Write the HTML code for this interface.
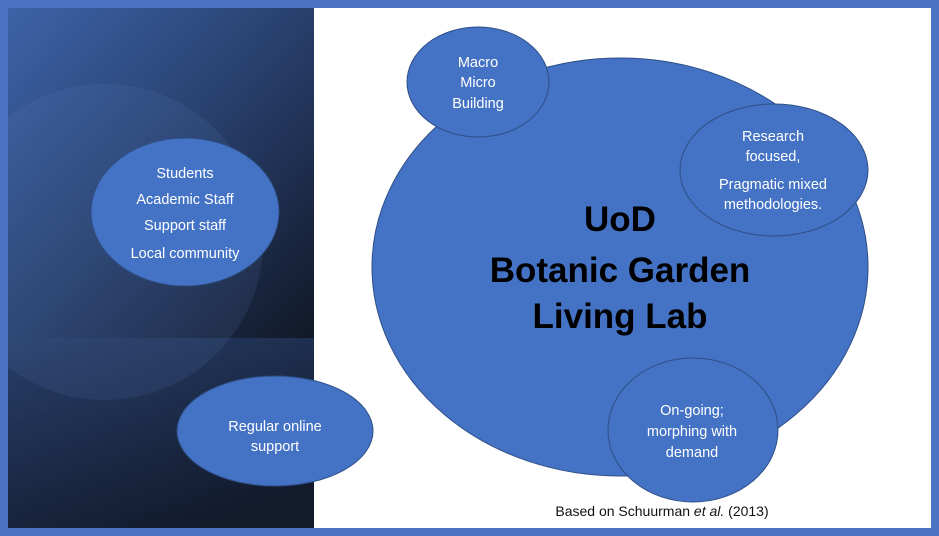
<!DOCTYPE html>
<html><head><style>
html,body{margin:0;padding:0;background:#fff;}
svg{display:block}
text{font-family:"Liberation Sans",sans-serif;}
</style></head><body>
<svg width="939" height="536" viewBox="0 0 939 536" xmlns="http://www.w3.org/2000/svg">
<defs>
<linearGradient id="pg" x1="0" y1="0" x2="1" y2="1">
<stop offset="0" stop-color="#3d63a8"/>
<stop offset="0.5" stop-color="#283f6c"/>
<stop offset="1" stop-color="#111827"/>
</linearGradient>
<linearGradient id="pg2" x1="0" y1="0" x2="0.6" y2="1">
<stop offset="0" stop-color="#283f6a"/>
<stop offset="1" stop-color="#121a2c"/>
</linearGradient>
<clipPath id="pc"><rect x="8" y="8" width="306" height="520"/></clipPath>
</defs>
<rect x="0" y="0" width="939" height="536" fill="#4a74c2"/>
<rect x="8" y="8" width="923" height="520" fill="#fff"/>
<rect x="8" y="8" width="306" height="330" fill="url(#pg)"/>
<rect x="8" y="338" width="306" height="190" fill="url(#pg2)"/>
<g clip-path="url(#pc)"><circle cx="105" cy="242" r="158" fill="#6a8fd0" fill-opacity="0.11"/></g>
<g fill="#4472c4" stroke="#2f4f86" stroke-width="1">
<ellipse cx="185" cy="212" rx="94" ry="74"/>
<ellipse cx="275" cy="431" rx="98" ry="55"/>
<ellipse cx="620" cy="267" rx="248" ry="209"/>
<ellipse cx="478" cy="82" rx="71" ry="55"/>
<ellipse cx="774" cy="170" rx="94" ry="66"/>
<ellipse cx="693" cy="430" rx="85" ry="72"/>
</g>
<g fill="#fff" font-size="14.5" text-anchor="middle">
<text x="185" y="178">Students</text>
<text x="185" y="204">Academic Staff</text>
<text x="185" y="230">Support staff</text>
<text x="185" y="258">Local community</text>
<text x="275" y="431">Regular online</text>
<text x="275" y="451">support</text>
<text x="478" y="67">Macro</text>
<text x="478" y="87">Micro</text>
<text x="478" y="108">Building</text>
<text x="773" y="141">Research</text>
<text x="773" y="161">focused,</text>
<text x="773" y="189">Pragmatic mixed</text>
<text x="773" y="209">methodologies.</text>
<text x="692" y="415">On-going;</text>
<text x="692" y="436">morphing with</text>
<text x="692" y="457">demand</text>
</g>
<g fill="#000" font-size="35" font-weight="bold" text-anchor="middle">
<text x="620" y="231">UoD</text>
<text x="620" y="282">Botanic Garden</text>
<text x="620" y="328">Living Lab</text>
</g>
<text x="662" y="516" font-size="14" text-anchor="middle" fill="#111">Based on Schuurman <tspan font-style="italic">et al.</tspan> (2013)</text>
</svg>
</body></html>
